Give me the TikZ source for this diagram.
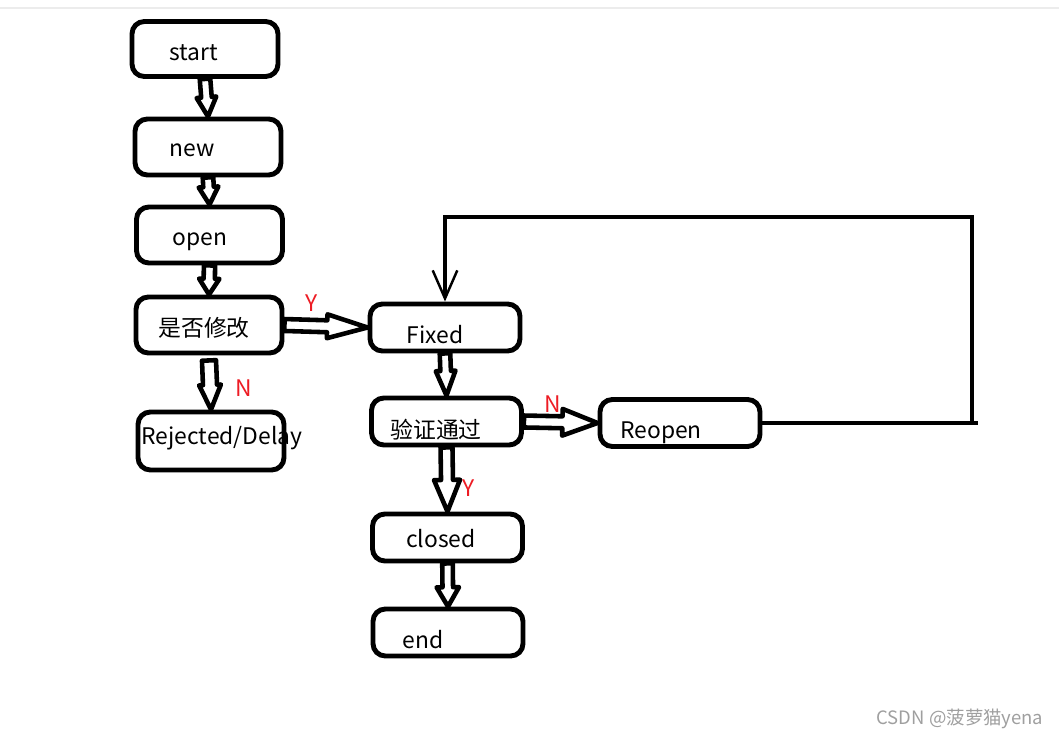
\documentclass[tikz,border=0pt]{standalone}
\usepackage{fontspec}
\newfontfamily\cjk{Noto Sans CJK SC}
\usetikzlibrary{calc,arrows.meta}
\definecolor{paintred}{RGB}{237,28,36}

\tikzset{
  box/.style={draw, line width=2.8pt, rounded corners=7pt, minimum width=2.92cm, minimum height=1.12cm},
  small/.style={minimum height=0.94cm},
  lbl/.style={font=\cjk\fontsize{13}{15}\selectfont, inner sep=0pt},
  yn/.style={font=\cjk\fontsize{13}{15}\selectfont, text=paintred, inner sep=0pt},
  % hollow block arrow: half shaft, half head, head length
  hollow/.style n args={3}{line width=2.6pt, line join=round, to path={
    ($(\tikztostart)!#1!90:(\tikztotarget)$)
    -- ($(\tikztotarget)!#3!(\tikztostart)!#1!-90:(\tikztostart)$)
    -- ($(\tikztotarget)!#3!(\tikztostart)!#2!-90:(\tikztostart)$)
    -- (\tikztotarget)
    -- ($(\tikztotarget)!#3!(\tikztostart)!#2!90:(\tikztostart)$)
    -- ($(\tikztotarget)!#3!(\tikztostart)!#1!90:(\tikztostart)$)
    -- ($(\tikztostart)!#1!-90:(\tikztotarget)$)
    -- cycle}},
  loopline/.style={line width=2.8pt},
}

\begin{document}
\begin{tikzpicture}[x=0.02cm, y=-0.02cm]
\useasboundingbox (0,0) rectangle (1059,739);
\draw [gray!15, line width=0.8pt] (0,8) -- (1059,8);

% left column
\node [box, minimum height=1.1cm] (start) at (205,49) {};
\node [box] (new) at (208,147) {};
\node [box] (open) at (209.5,235) {};
\node [box] (modify) at (209,325) {};
\node [box, minimum height=1.16cm] (reject) at (211,441) {};

% right column
\node [box, small, minimum width=3cm] (fixed) at (445,327.5) {};
\node [box, small, minimum width=3cm] (check) at (446.5,421.5) {};
\node [box, small, minimum width=3.2cm] (reopen) at (680,423) {};
\node [box, small, minimum width=3cm] (closed) at (447.5,537.5) {};
\node [box, small, minimum width=3cm] (end) at (448,632.5) {};

\node [lbl] (startl) at (194,53) {start};
\node [lbl] (newl) at (192,150) {new};
\node [lbl] (openl) at (200,242) {open};
\node [lbl] (modifyl) at (204,328) {是否修改};
\node [lbl] (rejectl) at (222,438) {Rejected/Delay};
\node [lbl] (fixedl) at (435,335) {Fixed};
\node [lbl] (checkl) at (436,430) {验证通过};
\node [lbl] (reopenl) at (661,433) {Reopen};
\node [lbl] (closedl) at (441,539) {closed};
\node [lbl] (endl) at (423,640) {end};

\node [yn] (y1) at (312,303) {Y};
\node [yn] (n1) at (244,388) {N};
\node [yn] (n2) at (553,404) {N};
\node [yn] (y2) at (469,488) {Y};

% block arrows
\draw [hollow={3pt}{5.6pt}{11pt}] (start.south) to (new.north);
\draw [hollow={3pt}{5.6pt}{10pt}] (new.south) to (open.north);
\draw [hollow={3.2pt}{5.8pt}{9pt}] (open.south) to (modify.north);
\coordinate (modifyb) at ([yshift=-0.1cm]modify.south);
\draw [hollow={4pt}{6.2pt}{14pt}] (modifyb) to (reject.north);
\draw [hollow={3.4pt}{6.8pt}{23pt}] (modify.east) to (fixed.west);
\draw [hollow={3pt}{5.6pt}{14pt}] (fixed.south) to (check.north);
\draw [hollow={3.4pt}{7.6pt}{20pt}] (check.east) to (reopen.west);
\draw [hollow={3.4pt}{7.4pt}{18pt}] (check.south) to (closed.north);
\draw [hollow={3pt}{6.4pt}{11pt}] (closed.south) to (end.north);

% way back from Reopen to Fixed
\coordinate (looptop) at (972,217);
\coordinate (loopr) at (reopen.east -| looptop);
\draw [loopline] (reopen.east) -- ([xshift=0.12cm]loopr);
\draw [loopline, -{Straight Barb[length=16pt, width=14pt, line width=1.4pt]}] (loopr) -- (looptop) -| (fixed.north);

\node [font=\cjk\fontsize{10.5}{12}\selectfont, text=gray!75] (mark) at (960,719) {CSDN @菠萝猫yena};
\end{tikzpicture}
\end{document}
